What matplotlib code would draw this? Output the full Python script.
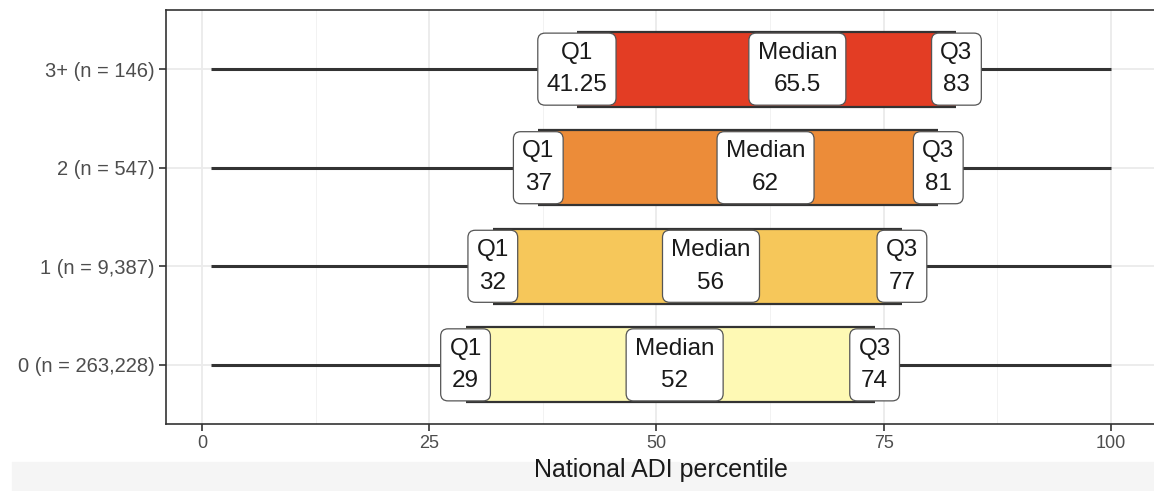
"""Box summary of national ADI percentile by group, with Q1 / median / Q3 labels."""

import matplotlib

matplotlib.use("Agg")
import matplotlib.pyplot as plt
from matplotlib.patches import Rectangle

plt.rcParams["font.family"] = ["Liberation Sans", "DejaVu Sans"]

GROUPS = ["0 (n = 263,228)", "1 (n = 9,387)", "2 (n = 547)", "3+ (n = 146)"]
LOW = [1, 1, 1, 1]
Q1 = [29, 32, 37, 41.25]
MEDIAN = [52, 56, 62, 65.5]
Q3 = [74, 77, 81, 83]
HIGH = [100, 100, 100, 100]
COLORS = ["#fef9b4", "#f6c75a", "#ec8c39", "#e33d24"]

DARK = "#333333"
GRID = "#ebebeb"
BOX_H = 0.76

fig = plt.figure(figsize=(11.54, 4.91), dpi=100)
fig.patches.append(Rectangle((0.01, 0), 0.99, 29 / 491, transform=fig.transFigure,
                             color="#f5f5f5", zorder=-10))
ax = fig.add_axes([166 / 1154, 67 / 491, 990 / 1154, 414 / 491])

y = list(range(len(GROUPS)))

for yi, lo, a, m, b, hi, c in zip(y, LOW, Q1, MEDIAN, Q3, HIGH, COLORS):
    # whiskers
    ax.plot([lo, a], [yi, yi], color=DARK, lw=2.2, zorder=2, solid_capstyle="butt")
    ax.plot([b, hi], [yi, yi], color=DARK, lw=2.2, zorder=2, solid_capstyle="butt")
    # box: fill plus top / bottom outline (sides sit under the labels)
    ax.barh(yi, b - a, left=a, height=BOX_H, color=c, linewidth=0, zorder=3)
    ax.hlines([yi - BOX_H / 2, yi + BOX_H / 2], a, b, color=DARK, lw=1.6, zorder=3)
    # labels centred on each statistic
    for val, name in ((a, "Q1"), (m, "Median"), (b, "Q3")):
        ax.text(val, yi, f"{name}\n{val:g}", ha="center", va="center",
                fontsize=17.5, linespacing=1.62, color="#1a1a1a", zorder=5,
                bbox=dict(boxstyle="round,pad=0.36,rounding_size=0.3",
                          facecolor="white", edgecolor="#555555", linewidth=0.9))

ax.set_xlim(-3.95, 104.95)
ax.set_ylim(-0.6, len(GROUPS) - 0.4)
ax.set_xticks([0, 25, 50, 75, 100])
ax.set_xticks([12.5, 37.5, 62.5, 87.5], minor=True)
ax.set_yticks(y)
ax.set_yticklabels(GROUPS)

ax.grid(axis="x", which="major", color=GRID, lw=1.3, zorder=0)
ax.grid(axis="x", which="minor", color="#f2f2f2", lw=0.7, zorder=0)
ax.grid(axis="y", which="major", color=GRID, lw=1.3, zorder=0)
ax.set_axisbelow(True)

ax.tick_params(axis="both", which="major", color=DARK, length=5, width=1.2,
               labelcolor="#4d4d4d")
ax.tick_params(axis="x", labelsize=13, pad=3)
ax.tick_params(axis="y", labelsize=14.5, pad=3)
ax.tick_params(axis="x", which="minor", length=0)
for s in ax.spines.values():
    s.set_color(DARK)
    s.set_linewidth(1.2)

ax.set_xlabel("National ADI percentile", fontsize=18, color="#1a1a1a", labelpad=4)

fig.savefig("out.png", dpi=100)
